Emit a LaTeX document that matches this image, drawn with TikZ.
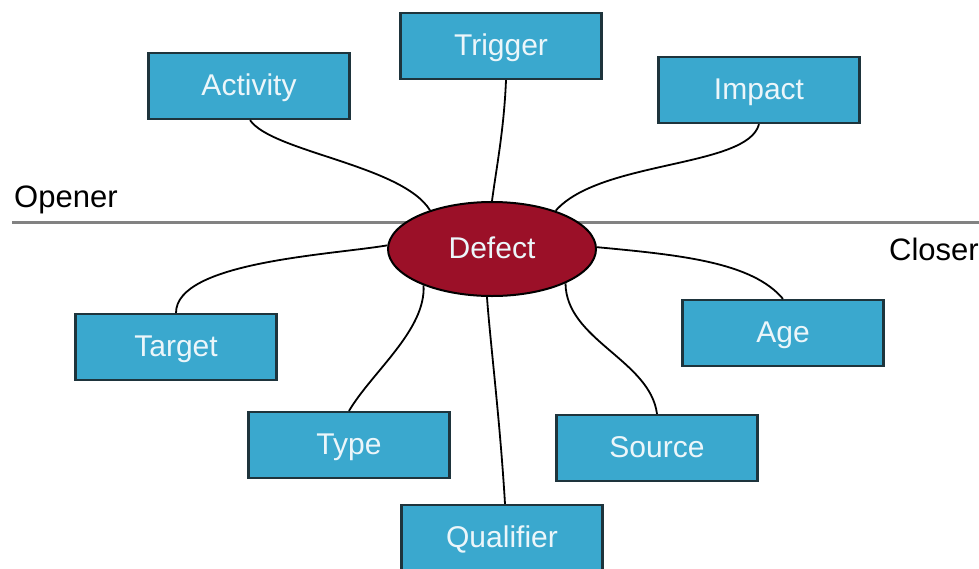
\documentclass[tikz,border=0pt]{standalone}
\usepackage{fontspec}
\setmainfont{Liberation Sans}
\usetikzlibrary{shapes.geometric}
\definecolor{boxfill}{RGB}{58,168,206}
\definecolor{boxline}{RGB}{30,52,60}
\definecolor{defectred}{RGB}{155,16,40}
\definecolor{divider}{RGB}{130,130,130}
\definecolor{labeltext}{RGB}{236,246,250}
\begin{document}
\begin{tikzpicture}[x=1pt,y=-1pt,
  attr/.style={draw=boxline,line width=2.2pt,fill=boxfill,minimum width=201pt,minimum height=66pt,
    text=labeltext,font=\fontsize{30}{33}\selectfont,inner sep=0pt,text height=22pt,text depth=4pt},
  hub/.style={ellipse,draw=black,line width=2pt,fill=defectred,minimum width=208pt,minimum height=94pt,
    text=labeltext,font=\fontsize{30}{33}\selectfont,inner sep=0pt,text height=22pt,text depth=4pt},
  link/.style={draw=black,line width=1.8pt},
  side/.style={font=\fontsize{31}{34}\selectfont,text=black,inner sep=0pt}]
\useasboundingbox (0,0) rectangle (979,568);
% divider between opener and closer attributes
\coordinate (divL) at (12,222);
\coordinate (divR) at (979,222);
\draw[divider,line width=3pt] (divL) -- (divR);
\node[side,anchor=base west] (opener) at (14,207) {Opener};
\node[side,anchor=base west] (closer) at (889,260) {Closer};
% central node
\node[hub] (defect) at (492,249) {Defect};
% attribute boxes
\node[attr] (activity) at (249,86) {Activity};
\node[attr] (trigger) at (501,46) {Trigger};
\node[attr] (impact) at (759,90) {Impact};
\node[attr] (target) at (176,347) {Target};
\node[attr] (type) at (349,445) {Type};
\node[attr] (qualifier) at (502,538) {Qualifier};
\node[attr] (source) at (657,448) {Source};
\node[attr] (age) at (783,333) {Age};
% connectors
\draw[link] ([xshift=1pt]activity.south) .. controls (272,152) and (402,165) .. (defect.148);
\draw[link] ([xshift=5pt]trigger.south) .. controls (504,130) and (496,170) .. (defect.90);
\draw[link] (impact.south) .. controls (748,168) and (600,160) .. (defect.31);
\draw[link] (target.north) .. controls (176,262) and (330,255) .. (defect.178);
\draw[link] (type.north) .. controls (372,372) and (426,330) .. (defect.-152);
\draw[link] ([xshift=3pt]qualifier.north) .. controls (500,420) and (490,340) .. (defect.-96);
\draw[link] (source.north) .. controls (650,360) and (566,340) .. (defect.-25);
\draw[link] (age.north) .. controls (752,262) and (680,255) .. (defect.1);
\end{tikzpicture}
\end{document}
